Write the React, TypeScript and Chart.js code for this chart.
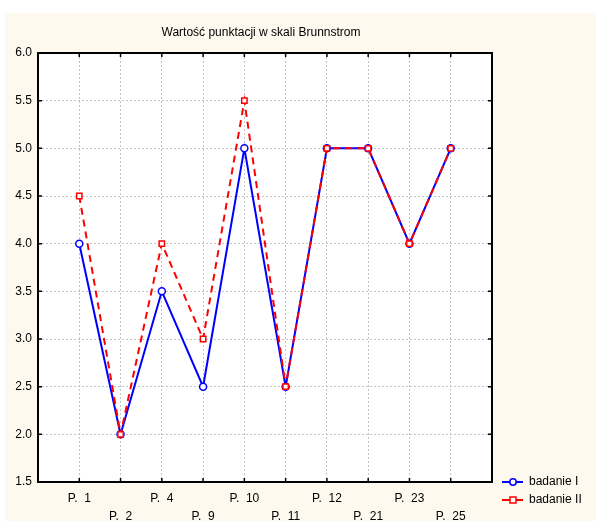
import { useEffect, useRef } from "react";
import { Chart, registerables } from "chart.js";
Chart.register(...registerables);

const categories = ["P.  1", "P.  2", "P.  4", "P.  9", "P.  10", "P.  11", "P.  12", "P.  21", "P.  23", "P.  25"];
const badanieI = [4.0, 2.0, 3.5, 2.5, 5.0, 2.5, 5.0, 5.0, 4.0, 5.0];
const badanieII = [4.5, 2.0, 4.0, 3.0, 5.5, 2.5, 5.0, 5.0, 4.0, 5.0];
const yTicks = [1.5, 2.0, 2.5, 3.0, 3.5, 4.0, 4.5, 5.0, 5.5, 6.0];
const titleText = "Wartość punktacji w skali Brunnstrom";
const seriesNames = ["badanie I", "badanie II"];
const seriesColors = ["#0000ff", "#ff0000"];

const FONT = "'Liberation Sans', Arial, sans-serif";

const framePlugin = {
  id: "framePlugin",
  beforeDraw(chart: any) {
    const { ctx, chartArea: a, width, height } = chart;
    ctx.save();
    ctx.fillStyle = "#ffffff";
    ctx.fillRect(0, 0, width, height);
    ctx.fillStyle = "#fdf9ee";
    ctx.fillRect(5, 13, width - 5, height - 13);
    ctx.fillStyle = "#ffffff";
    ctx.fillRect(a.left, a.top, a.right - a.left, a.bottom - a.top);
    ctx.restore();
  },
  afterDraw(chart: any) {
    const { ctx, chartArea: a, scales } = chart;
    ctx.save();
    ctx.strokeStyle = "#000";
    ctx.lineWidth = 2;
    ctx.strokeRect(a.left, a.top, a.right - a.left, a.bottom - a.top);
    ctx.lineWidth = 1.5;
    const tl = 4;
    ctx.beginPath();
    scales.x.ticks.forEach((t: any) => {
      const x = scales.x.getPixelForValue(t.value);
      ctx.moveTo(x, a.bottom);
      ctx.lineTo(x, a.bottom - tl);
      ctx.moveTo(x, a.top);
      ctx.lineTo(x, a.top + tl);
    });
    scales.y.ticks.forEach((t: any) => {
      const y = scales.y.getPixelForValue(t.value);
      ctx.moveTo(a.left, y);
      ctx.lineTo(a.left + tl, y);
      ctx.moveTo(a.right, y);
      ctx.lineTo(a.right - tl, y);
    });
    ctx.stroke();

    // title
    ctx.fillStyle = "#000";
    ctx.font = `12px ${FONT}`;
    ctx.textAlign = "center";
    ctx.textBaseline = "middle";
    ctx.fillText(titleText, (a.left + a.right) / 2 - 4, 33);

    // legend
    ctx.textAlign = "left";
    const lx = 502;
    const ys = [482, 500];
    seriesNames.forEach((name, i) => {
      const y = ys[i];
      ctx.strokeStyle = seriesColors[i];
      ctx.lineWidth = 2;
      ctx.setLineDash([]);
      ctx.beginPath();
      ctx.moveTo(lx, y);
      ctx.lineTo(lx + 21, y);
      ctx.stroke();
      ctx.fillStyle = "#fff";
      ctx.lineWidth = 1.5;
      if (i === 0) {
        ctx.beginPath();
        ctx.arc(lx + 11, y, 3.2, 0, Math.PI * 2);
        ctx.fill();
        ctx.stroke();
      } else {
        ctx.fillRect(lx + 8, y - 3, 6, 6);
        ctx.strokeRect(lx + 8, y - 3, 6, 6);
      }
      ctx.fillStyle = "#000";
      ctx.fillText(name, lx + 27, y);
    });
    ctx.restore();
  },
};

export default function App() {
  const ref = useRef<HTMLCanvasElement | null>(null);
  useEffect(() => {
    document.body.style.margin = "0";
    const canvas = ref.current!;
    const chart = new Chart(canvas, {
      type: "line",
      data: {
        datasets: [
          {
            label: seriesNames[0],
            data: badanieI.map((v, i) => ({ x: i + 1, y: v })),
            borderColor: seriesColors[0],
            borderWidth: 2,
            pointStyle: "circle",
            pointRadius: 3.5,
            pointBorderWidth: 1.5,
            pointBackgroundColor: "#ffffff",
            pointBorderColor: seriesColors[0],
            tension: 0,
            order: 2,
          },
          {
            label: seriesNames[1],
            data: badanieII.map((v, i) => ({ x: i + 1, y: v })),
            borderColor: seriesColors[1],
            borderWidth: 2,
            borderDash: [7, 5],
            pointStyle: "rect",
            pointRadius: 3.8,
            pointBorderWidth: 1.5,
            pointBackgroundColor: "#ffffff",
            pointBorderColor: seriesColors[1],
            tension: 0,
            order: 1,
          },
        ],
      },
      options: {
        animation: false,
        responsive: false,
        devicePixelRatio: 1,
        layout: { padding: { top: 53, right: 104, left: 0, bottom: 0 } },
        plugins: { legend: { display: false }, title: { display: false }, tooltip: { enabled: false } },
        scales: {
          x: {
            type: "linear",
            min: 0,
            max: 11,
            afterBuildTicks: (scale: any) => {
              scale.ticks = categories.map((_, i) => ({ value: i + 1 }));
            },
            afterFit: (scale: any) => {
              scale.height = 39;
            },
            ticks: {
              autoSkip: false,
              maxRotation: 0,
              padding: 7,
              color: "#000",
              font: { family: FONT, size: 12, lineHeight: 1.55 },
              callback: (value: any) => {
                const idx = Math.round(Number(value)) - 1;
                const label = categories[idx] ?? "";
                return idx % 2 === 0 ? [label, ""] : ["", label];
              },
            },
            grid: { color: "#c4c4c4", lineWidth: 1, drawTicks: false, tickBorderDash: [2, 2] },
            border: { display: false, dash: [2, 2] },
          },
          y: {
            type: "linear",
            min: 1.5,
            max: 6,
            afterBuildTicks: (scale: any) => {
              scale.ticks = yTicks.map((v) => ({ value: v }));
            },
            afterFit: (scale: any) => {
              scale.width = 38;
            },
            ticks: {
              padding: 6,
              color: "#000",
              font: { family: FONT, size: 12 },
              callback: (value: any) => Number(value).toFixed(1),
            },
            grid: { color: "#c4c4c4", lineWidth: 1, drawTicks: false },
            border: { display: false, dash: [2, 2] },
          },
        },
      },
      plugins: [framePlugin],
    } as any);
    return () => chart.destroy();
  }, []);
  return <canvas ref={ref} width={596} height={521} style={{ display: "block" }} />;
}
